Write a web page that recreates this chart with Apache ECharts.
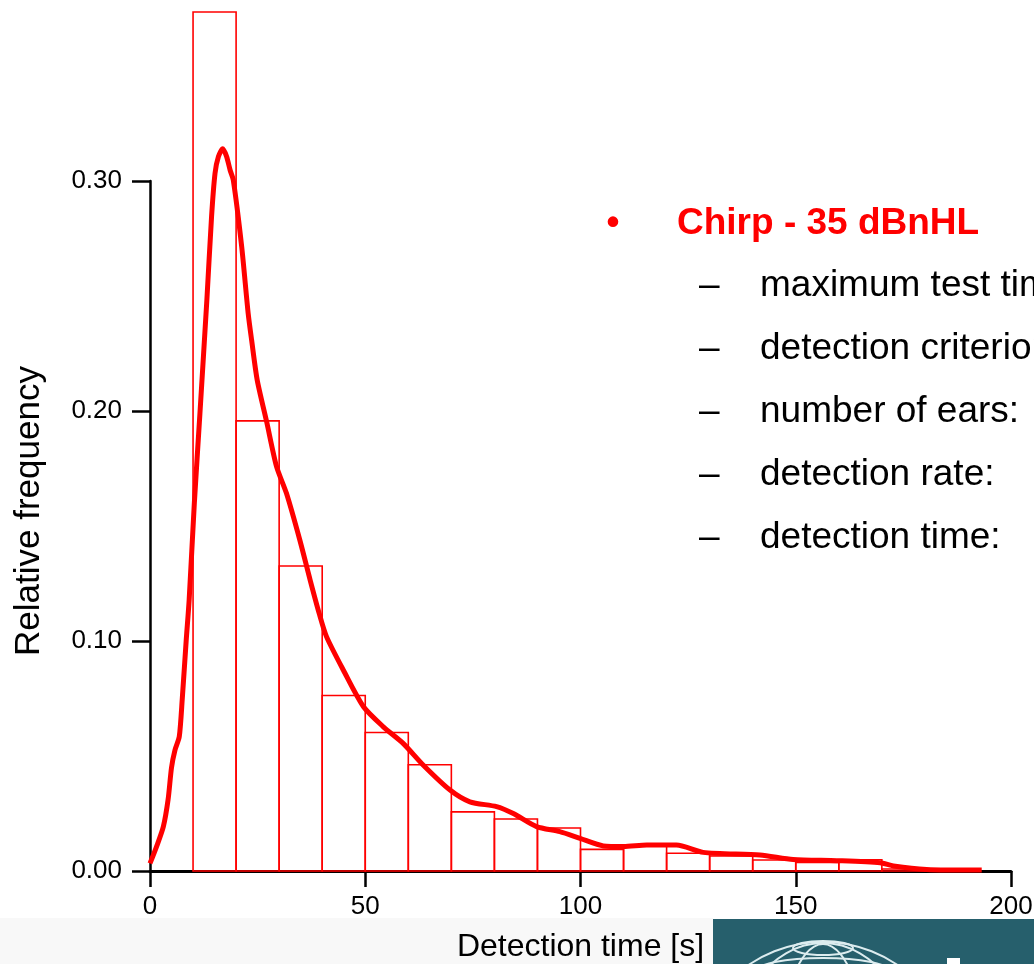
<!DOCTYPE html>
<html>
<head>
<meta charset="utf-8">
<script src="https://cdn.jsdelivr.net/npm/echarts@6/dist/echarts.min.js"></script>
<style>
  html, body { margin: 0; padding: 0; background: #ffffff; }
  #chart { width: 1034px; height: 964px; }
</style>
</head>
<body>
<div id="chart"></div>
<script>
// Histogram bins of detection time: [bin start, bin end, relative frequency]
const binStarts = [10, 20, 30, 40, 50, 60, 70, 80, 90, 100, 110, 120, 130, 140, 150, 160, 170, 180];
const binWidth = 10;
const binFreqs = [0.3735, 0.1957, 0.1326, 0.0763, 0.0602, 0.0462, 0.0257, 0.0226, 0.0187,
                  0.0094, 0.0112, 0.0077, 0.0065, 0.0048, 0.0037, 0.0049, 0.0009, 0.0005];

// Estimated density curve: time [s] and relative frequency
const curveTimes = [0, 1.5, 3.1, 4.2, 5.0, 5.8, 6.8, 7.5, 8.4, 9.1, 10.3, 11.6, 13.2, 14.3, 15.1, 15.9,
                    16.9, 17.8, 18.6, 19.35, 21.3, 22.8, 23.6, 24.9, 27.1, 29.4, 31.7, 34.8, 37.2, 39.3,
                    41.0, 44.9, 49.6, 54.2, 58.8, 63.5, 69.7, 74.3, 80.5, 84.4, 89.8, 95.2, 99.9, 105.3,
                    110, 115.4, 122.3, 128.5, 141.7, 149.4, 159.5, 169.6, 172.7, 180.4, 193.2];
const curveFreqs = [0.0033, 0.0105, 0.0193, 0.031, 0.045, 0.0526, 0.0584, 0.075, 0.100, 0.118, 0.160, 0.199,
                    0.248, 0.2845, 0.3033, 0.3106, 0.314, 0.3106, 0.3048, 0.3004, 0.2714, 0.2425, 0.2309,
                    0.2135, 0.1953, 0.1758, 0.1642, 0.1439, 0.1265, 0.112, 0.1019, 0.0874, 0.0714, 0.0627,
                    0.0555, 0.046, 0.0352, 0.0301, 0.028, 0.025, 0.0193, 0.0171, 0.0142, 0.0109, 0.0106,
                    0.0113, 0.0113, 0.0081, 0.007, 0.005, 0.0045, 0.0036, 0.0022, 0.0007, 0.0004];

// Axis ticks
const xTicks = [0, 50, 100, 150, 200];
const yTicks = [0, 0.1, 0.2, 0.3];

// Text block beside the chart
const headline = 'Chirp - 35 dBnHL';
const details = ['maximum test time:', 'detection criterion:', 'number of ears:', 'detection rate:', 'detection time:'];

const FONT = "'Liberation Sans', Arial, Helvetica, sans-serif";
const RED = '#ff0000';

const histData = binStarts.map((s, i) => [s, s + binWidth, binFreqs[i]]);
const curveData = curveTimes.map((t, i) => [t, curveFreqs[i]]);

const chart = echarts.init(document.getElementById('chart'), null, { renderer: 'canvas' });

const graphics = [
  // light band along the bottom edge
  { type: 'rect', z: -10, shape: { x: 0, y: 918, width: 713, height: 46 }, style: { fill: '#f8f8f8' } },
  // logo block in the lower right corner
  { type: 'rect', z: -10, shape: { x: 713, y: 919, width: 321, height: 45 }, style: { fill: '#265f6c' } },
  { type: 'circle', z: -9, shape: { cx: 823, cy: 1074, r: 132 }, style: { fill: 'none', stroke: '#dcecef', lineWidth: 2 } },
  { type: 'ellipse', z: -9, shape: { cx: 823, cy: 1074, rx: 45, ry: 130 }, style: { fill: 'none', stroke: '#dcecef', lineWidth: 2 } },
  { type: 'ellipse', z: -9, shape: { cx: 823, cy: 1074, rx: 95, ry: 131 }, style: { fill: 'none', stroke: '#dcecef', lineWidth: 2 } },
  { type: 'ellipse', z: -9, shape: { cx: 823, cy: 948, rx: 30, ry: 7 }, style: { fill: 'none', stroke: '#dcecef', lineWidth: 2 } },
  { type: 'ellipse', z: -9, shape: { cx: 823, cy: 972, rx: 68, ry: 14 }, style: { fill: 'none', stroke: '#dcecef', lineWidth: 2 } },
  { type: 'rect', z: -9, shape: { x: 947, y: 958, width: 13, height: 6 }, style: { fill: '#ffffff' } },
  // y axis title
  {
    type: 'text', x: 29, y: 511, rotation: Math.PI / 2,
    style: { text: 'Relative frequency', font: '35px ' + FONT, fill: '#000', align: 'center', verticalAlign: 'middle' }
  },
  // headline with bullet
  { type: 'text', x: 613, y: 224, style: { text: '\u2022', font: 'bold 37px ' + FONT, fill: RED, align: 'center', verticalAlign: 'middle' } },
  { type: 'text', x: 677, y: 224, style: { text: headline, font: 'bold 37px ' + FONT, fill: RED, align: 'left', verticalAlign: 'middle' } }
];
details.forEach((d, i) => {
  const y = 286 + i * 63;
  graphics.push({ type: 'text', x: 699, y: y, style: { text: '\u2013', font: '37px ' + FONT, fill: '#000', align: 'left', verticalAlign: 'middle' } });
  graphics.push({ type: 'text', x: 760, y: y, style: { text: d, font: '37px ' + FONT, fill: '#000', align: 'left', verticalAlign: 'middle' } });
});

const option = {
  animation: false,
  backgroundColor: '#ffffff',
  grid: { left: 150, right: 23, top: 181, bottom: 93, containLabel: false, outerBoundsMode: 'none' },
  xAxis: {
    type: 'value',
    min: 0, max: 200, interval: 50,
    name: 'Detection time [s]',
    nameLocation: 'middle',
    nameGap: 60,
    nameTextStyle: { fontFamily: FONT, fontSize: 32, color: '#000' },
    axisLine: { show: true, lineStyle: { color: '#000', width: 3 } },
    axisTick: { show: true, inside: false, length: 16, lineStyle: { color: '#000', width: 2.5 }, customValues: xTicks },
    axisLabel: { margin: 23, fontFamily: FONT, fontSize: 26, color: '#000', customValues: xTicks },
    splitLine: { show: false }
  },
  yAxis: {
    type: 'value',
    min: 0, max: 0.3, interval: 0.1,
    axisLine: { show: true, onZero: false, lineStyle: { color: '#000', width: 2.5 } },
    axisTick: { show: true, inside: false, length: 18, lineStyle: { color: '#000', width: 2.5 }, customValues: yTicks },
    axisLabel: {
      margin: 28, fontFamily: FONT, fontSize: 26, color: '#000', customValues: yTicks,
      formatter: v => v.toFixed(2)
    },
    splitLine: { show: false }
  },
  graphic: graphics,
  series: [
    {
      type: 'custom',
      name: 'histogram',
      clip: false,
      data: histData,
      encode: { x: [0, 1], y: 2 },
      renderItem: function (params, api) {
        const topLeft = api.coord([api.value(0), api.value(2)]);
        const bottomRight = api.coord([api.value(1), 0]);
        return {
          type: 'rect',
          shape: {
            x: topLeft[0], y: topLeft[1],
            width: bottomRight[0] - topLeft[0],
            height: bottomRight[1] - topLeft[1]
          },
          style: { fill: 'rgba(255,255,255,0)', stroke: RED, lineWidth: 1.6 }
        };
      },
      z: 2
    },
    {
      type: 'line',
      name: 'density',
      data: curveData,
      clip: false,
      showSymbol: false,
      smooth: 0.25,
      lineStyle: { color: RED, width: 5 },
      itemStyle: { color: RED },
      z: 3
    }
  ]
};

chart.setOption(option);
</script>
</body>
</html>
